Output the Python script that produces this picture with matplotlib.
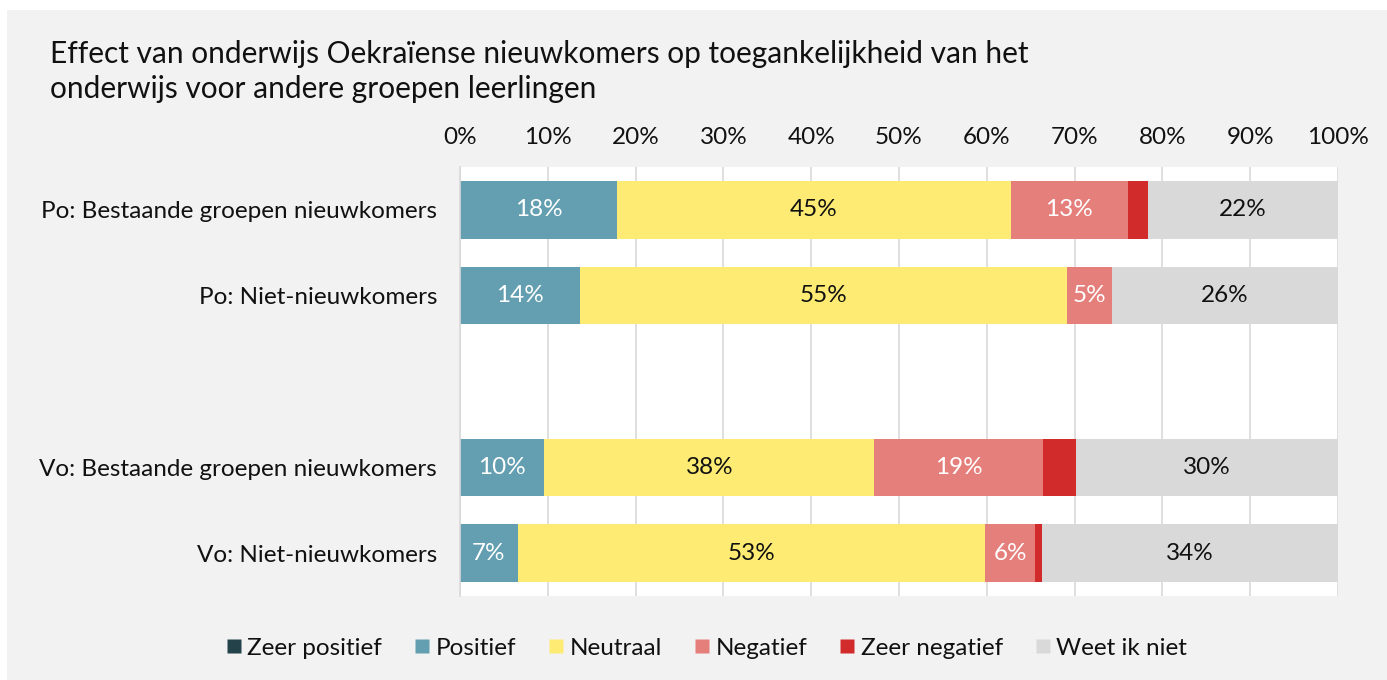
import matplotlib

matplotlib.use("Agg")

import matplotlib.pyplot as plt
from matplotlib.lines import Line2D
from matplotlib.patches import Rectangle

plt.rcParams["font.family"] = ["Lato", "DejaVu Sans"]

categories = [
    "Po: Bestaande groepen nieuwkomers",
    "Po: Niet-nieuwkomers",
    "",
    "Vo: Bestaande groepen nieuwkomers",
    "Vo: Niet-nieuwkomers",
]
series = ["Zeer positief", "Positief", "Neutraal", "Negatief", "Zeer negatief", "Weet ik niet"]
zeer_positief = [0.0, 0.0, 0.0, 0.0, 0.0]
positief = [17.9, 13.7, 0.0, 9.6, 6.6]
neutraal = [44.8, 55.4, 0.0, 37.6, 53.2]
negatief = [13.4, 5.2, 0.0, 19.2, 5.7]
zeer_negatief = [2.3, 0.0, 0.0, 3.8, 0.8]
weet_ik_niet = [21.6, 25.7, 0.0, 29.8, 33.7]
ticks = [0, 10, 20, 30, 40, 50, 60, 70, 80, 90, 100]

colors = ["#234249", "#639fb0", "#fdeb73", "#e57f7c", "#d12b2b", "#d9d9d9"]
label_colors = [None, "white", "#111111", "white", None, "#111111"]
values = [zeer_positief, positief, neutraal, negatief, zeer_negatief, weet_ik_niet]

FS = 17.5
W, H = 1387, 680
fig = plt.figure(figsize=(W / 100, H / 100), dpi=100, facecolor="white")
fig.patches.append(Rectangle((7 / W, 0), 1 - 7 / W, 1 - 10 / H, transform=fig.transFigure,
                             facecolor="#f2f2f2", edgecolor="none", zorder=-10))

ax = fig.add_axes([460 / W, 1 - 596 / H, (1338 - 460) / W, (596 - 167) / H])
ax.set_facecolor("white")

ypos = list(range(len(categories)))
left = [0.0] * len(categories)
for name, vals, col, lcol in zip(series, values, colors, label_colors):
    bars = ax.barh(ypos, vals, left=left, height=0.67, color=col, label=name, zorder=2)
    if lcol is not None:
        for bar, v in zip(bars, vals):
            if v > 0:
                ax.text(bar.get_x() + bar.get_width() / 2, bar.get_y() + bar.get_height() / 2,
                        f"{v:.0f}%", ha="center", va="center", color=lcol, fontsize=FS, zorder=3)
    left = [a + b for a, b in zip(left, vals)]

ax.set_xlim(0, 100)
ax.set_ylim(len(categories) - 0.5, -0.5)
ax.set_xticks(ticks)
ax.set_xticklabels([f"{t}%" for t in ticks])
ax.xaxis.tick_top()
ax.tick_params(axis="x", length=0, pad=14, labelsize=FS, colors="#111111")
ax.tick_params(axis="y", length=0, pad=16.5, labelsize=FS, colors="#111111")
ax.set_yticks(ypos)
ax.set_yticklabels(categories)
ax.grid(axis="x", color="#d9d9d9", linewidth=1.2, zorder=0)
for side in ("top", "right", "bottom"):
    ax.spines[side].set_visible(False)
ax.spines["left"].set_color("#d9d9d9")
ax.spines["left"].set_linewidth(1.2)

fig.text(50 / W, 1 - 40.5 / H, "Effect van onderwijs Oekraïense nieuwkomers op toegankelijkheid van het\n"
         "onderwijs voor andere groepen leerlingen", ha="left", va="top", fontsize=21.5,
         color="#111111", linespacing=1.27)

handles = [Line2D([], [], marker="s", linestyle="none", markersize=10, markerfacecolor=c,
                  markeredgecolor="none") for c in colors]
fig.legend(handles, series, loc="center", bbox_to_anchor=(707 / W, 1 - 648 / H), ncol=6,
           frameon=False, fontsize=FS, handletextpad=0.25, columnspacing=1.35, handlelength=0.6,
           labelcolor="#111111")

fig.savefig("out.png", dpi=100, facecolor=fig.get_facecolor())
